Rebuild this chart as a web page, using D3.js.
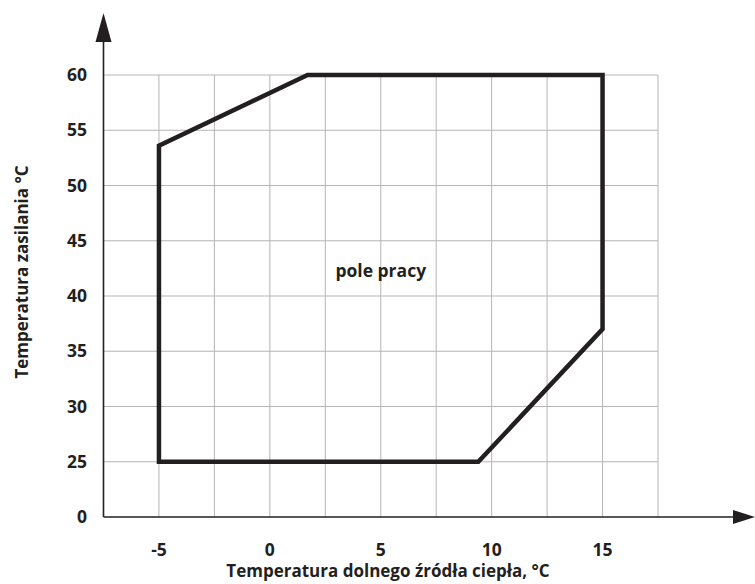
<!DOCTYPE html>
<html>
<head>
<meta charset="utf-8">
<script src="https://cdn.jsdelivr.net/npm/d3@7"></script>
<style>
  body { margin: 0; background: #fff; }
  text { font-family: "Open Sans", sans-serif; font-weight: bold; fill: #231f20; }
</style>
</head>
<body>
<div id="chart"></div>
<script>
// outline of the working range (x = source temp, y = supply temp)
var envX = [-5, -5, 1.7, 15, 15, 9.4];
var envY = [25, 53.6, 60, 60, 37, 25];

var xTicks = [-5, 0, 5, 10, 15];
var xGrid = [-5, -2.5, 0, 2.5, 5, 7.5, 10, 12.5, 15, 17.5];
var yTicks = [0, 25, 30, 35, 40, 45, 50, 55, 60];

var xTitle = "Temperatura dolnego źródła ciepła, °C";
var yTitle = "Temperatura zasilania °C";
var areaLabel = "pole pracy";

var W = 755, H = 584,
  m = { left: 103.5, right: 658, top: 75, bottom: 517 };

var svg = d3.select("#chart").append("svg")
  .attr("width", W)
  .attr("height", H);

var x = d3.scaleLinear()
  .domain([-7.5, 17.5])
  .range([m.left, m.right]);

// broken axis: 0 sits one step below 25
var y = d3.scaleLinear()
  .domain([0, 25, 60])
  .range([m.bottom, m.bottom - (m.bottom - m.top) / 8, m.top]);

var grid = svg.append("g").attr("stroke", "#b5b5b5").attr("stroke-width", 1);

grid.selectAll(".hg")
  .data(yTicks.slice(1))
  .enter().append("line")
  .attr("x1", m.left).attr("x2", x(17.5))
  .attr("y1", function (d) { return y(d); })
  .attr("y2", function (d) { return y(d); });

grid.selectAll(".vg")
  .data(xGrid)
  .enter().append("line")
  .attr("y1", y(60)).attr("y2", m.bottom)
  .attr("x1", function (d) { return x(d); })
  .attr("x2", function (d) { return x(d); });

// axes with arrows
var axisCol = "#231f20";
svg.append("line")
  .attr("x1", m.left).attr("x2", 740)
  .attr("y1", m.bottom).attr("y2", m.bottom)
  .attr("stroke", axisCol).attr("stroke-width", 1.6);
svg.append("path")
  .attr("d", "M733," + (m.bottom - 7) + "L755," + m.bottom + "L733," + (m.bottom + 7) + "Z")
  .attr("fill", axisCol);

svg.append("line")
  .attr("x1", m.left).attr("x2", m.left)
  .attr("y1", m.bottom).attr("y2", 35)
  .attr("stroke", axisCol).attr("stroke-width", 1.6);
svg.append("path")
  .attr("d", "M" + (m.left - 8) + ",42L" + m.left + ",13L" + (m.left + 8) + ",42Z")
  .attr("fill", axisCol);

// tick labels
svg.selectAll(".xl")
  .data(xTicks)
  .enter().append("text")
  .attr("x", function (d) { return x(d); })
  .attr("y", 556)
  .attr("text-anchor", "middle")
  .style("font-size", "17.5px")
  .text(function (d) { return d; });

svg.selectAll(".yl")
  .data(yTicks)
  .enter().append("text")
  .attr("x", 87)
  .attr("y", function (d) { return y(d); })
  .attr("dy", "0.35em")
  .attr("text-anchor", "end")
  .style("font-size", "17.5px")
  .text(function (d) { return d; });

// titles
svg.append("text")
  .attr("x", 388)
  .attr("y", 577)
  .attr("text-anchor", "middle")
  .style("font-size", "17px")
  .text(xTitle);

svg.append("text")
  .attr("transform", "translate(28,272) rotate(-90)")
  .attr("text-anchor", "middle")
  .style("font-size", "17px")
  .text(yTitle);

// working range outline
var line = d3.line()
  .x(function (d) { return x(d[0]); })
  .y(function (d) { return y(d[1]); })
  .curve(d3.curveLinearClosed);

svg.append("path")
  .datum(envX.map(function (v, i) { return [v, envY[i]]; }))
  .attr("d", line)
  .attr("fill", "none")
  .attr("stroke", axisCol)
  .attr("stroke-width", 4.5)
  .attr("stroke-linejoin", "miter");

svg.append("text")
  .attr("x", x(5))
  .attr("y", y(42.3))
  .attr("dy", "0.35em")
  .attr("text-anchor", "middle")
  .style("font-size", "17.5px")
  .text(areaLabel);
</script>
</body>
</html>
